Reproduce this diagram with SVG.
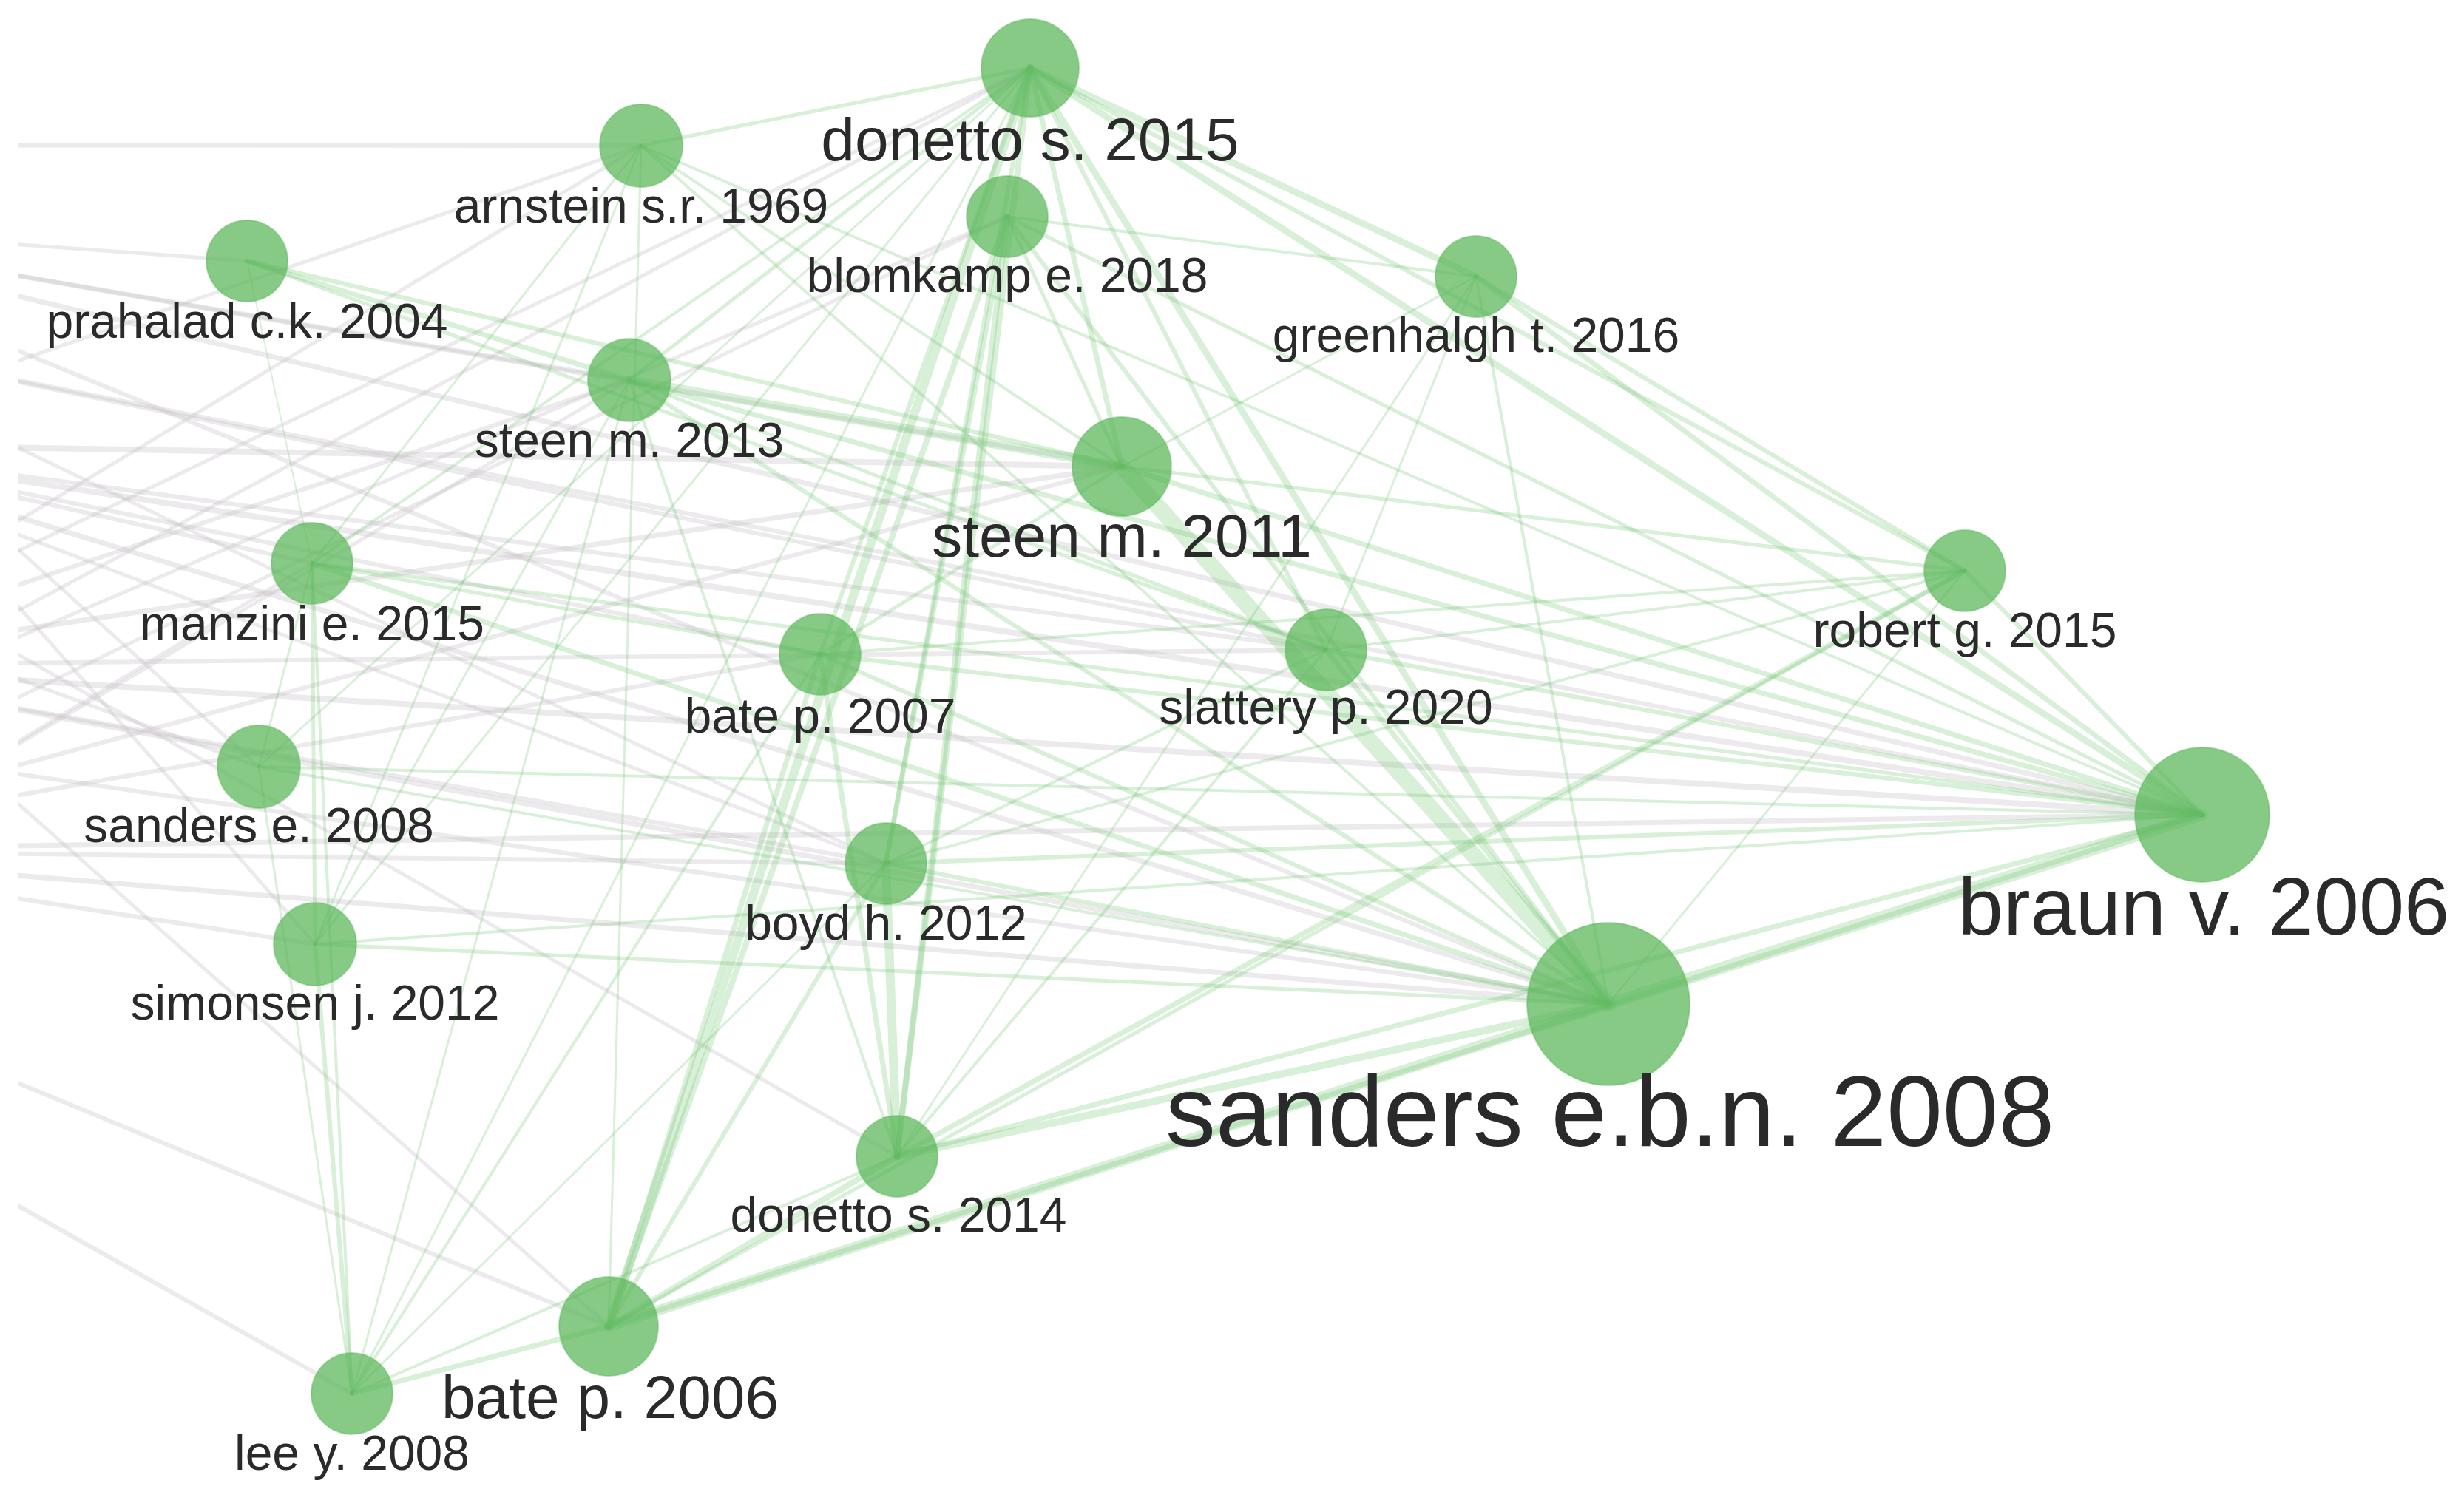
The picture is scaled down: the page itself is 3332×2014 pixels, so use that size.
<svg xmlns="http://www.w3.org/2000/svg" width="3332" height="2014" viewBox="0 0 3332 2014">
<defs>
<style>
.g{stroke:#72c472;stroke-opacity:0.28;fill:none;stroke-linecap:round}
.q{stroke:#c4c0c4;stroke-opacity:0.33;fill:none}
.n{fill:#5cb85c;fill-opacity:0.74;stroke:#5cb85c;stroke-opacity:0.45;stroke-width:2}
.t{font-family:"Liberation Sans",Arial,sans-serif;fill:#2a2a2a;text-anchor:middle}
.s{font-size:66px}
.m{font-size:82px}
</style>
<clipPath id="clip"><rect x="25" y="0" width="3307" height="2014"/></clipPath>
</defs>
<rect width="3332" height="2014" fill="#fff"/>
<g id="connectors" clip-path="url(#clip)">
<g id="background-edges">
<line class="q" x1="-600" y1="196" x2="867" y2="197" stroke-width="6"/>
<line class="q" x1="-400" y1="300" x2="851" y2="514" stroke-width="6"/>
<line class="q" x1="-400" y1="300" x2="1517" y2="631" stroke-width="6"/>
<line class="q" x1="-400" y1="300" x2="2175" y2="1358" stroke-width="6"/>
<line class="q" x1="-400" y1="300" x2="2978" y2="1102" stroke-width="7"/>
<line class="q" x1="-400" y1="300" x2="334" y2="353" stroke-width="5"/>
<line class="q" x1="-300" y1="600" x2="2978" y2="1102" stroke-width="8"/>
<line class="q" x1="-300" y1="600" x2="2175" y2="1358" stroke-width="7"/>
<line class="q" x1="-300" y1="600" x2="1793" y2="879" stroke-width="6"/>
<line class="q" x1="-300" y1="600" x2="1517" y2="631" stroke-width="8"/>
<line class="q" x1="-300" y1="600" x2="1109" y2="885" stroke-width="6"/>
<line class="q" x1="-300" y1="600" x2="1198" y2="1168" stroke-width="5"/>
<line class="q" x1="-300" y1="600" x2="422" y2="762" stroke-width="6"/>
<line class="q" x1="-300" y1="600" x2="867" y2="197" stroke-width="5"/>
<line class="q" x1="-300" y1="900" x2="2978" y2="1102" stroke-width="8"/>
<line class="q" x1="-300" y1="900" x2="2175" y2="1358" stroke-width="7"/>
<line class="q" x1="-300" y1="900" x2="1793" y2="879" stroke-width="6"/>
<line class="q" x1="-300" y1="900" x2="1198" y2="1168" stroke-width="6"/>
<line class="q" x1="-300" y1="900" x2="851" y2="514" stroke-width="6"/>
<line class="q" x1="-300" y1="900" x2="867" y2="197" stroke-width="5"/>
<line class="q" x1="-300" y1="900" x2="1393" y2="92" stroke-width="5"/>
<line class="q" x1="-300" y1="900" x2="1517" y2="631" stroke-width="7"/>
<line class="q" x1="-400" y1="1150" x2="2175" y2="1358" stroke-width="7"/>
<line class="q" x1="-400" y1="1150" x2="2978" y2="1102" stroke-width="7"/>
<line class="q" x1="-400" y1="1150" x2="1198" y2="1168" stroke-width="6"/>
<line class="q" x1="-400" y1="1150" x2="426" y2="1277" stroke-width="6"/>
<line class="q" x1="-400" y1="1150" x2="1517" y2="631" stroke-width="6"/>
<line class="q" x1="-400" y1="1150" x2="1109" y2="885" stroke-width="6"/>
<line class="q" x1="-400" y1="1150" x2="1362" y2="293" stroke-width="5"/>
<line class="q" x1="-300" y1="450" x2="350" y2="1037" stroke-width="5"/>
<line class="q" x1="-300" y1="450" x2="426" y2="1277" stroke-width="5"/>
<line class="q" x1="-300" y1="450" x2="1198" y2="1168" stroke-width="5"/>
<line class="q" x1="-300" y1="450" x2="1793" y2="879" stroke-width="6"/>
<line class="q" x1="-300" y1="450" x2="2978" y2="1102" stroke-width="6"/>
<line class="q" x1="-300" y1="1000" x2="1393" y2="92" stroke-width="5"/>
<line class="q" x1="-300" y1="1000" x2="1362" y2="293" stroke-width="5"/>
<line class="q" x1="-300" y1="1000" x2="2175" y2="1358" stroke-width="6"/>
<line class="q" x1="-500" y1="1249" x2="823" y2="1794" stroke-width="6"/>
<line class="q" x1="-500" y1="1336" x2="476" y2="1885" stroke-width="6"/>
<line class="q" x1="-300" y1="800" x2="350" y2="1037" stroke-width="5"/>
<line class="q" x1="-300" y1="800" x2="823" y2="1794" stroke-width="5"/>
<line class="q" x1="-300" y1="700" x2="1213" y2="1564" stroke-width="5"/>
<line class="q" x1="-300" y1="1200" x2="851" y2="514" stroke-width="5"/>
<line class="q" x1="-300" y1="1200" x2="422" y2="762" stroke-width="5"/>
</g>
<g id="edges">
<line class="g" x1="823" y1="1794" x2="2175" y2="1358" stroke-width="14"/>
<line class="g" x1="2175" y1="1358" x2="2978" y2="1102" stroke-width="16"/>
<line class="g" x1="823" y1="1794" x2="2978" y2="1102" stroke-width="7"/>
<line class="g" x1="1213" y1="1564" x2="2175" y2="1358" stroke-width="10"/>
<line class="g" x1="1213" y1="1564" x2="2978" y2="1102" stroke-width="7"/>
<line class="g" x1="823" y1="1794" x2="1393" y2="92" stroke-width="12"/>
<line class="g" x1="823" y1="1794" x2="1362" y2="293" stroke-width="8"/>
<line class="g" x1="1213" y1="1564" x2="1393" y2="92" stroke-width="8"/>
<line class="g" x1="1213" y1="1564" x2="1362" y2="293" stroke-width="8"/>
<line class="g" x1="1213" y1="1564" x2="1198" y2="1168" stroke-width="12"/>
<line class="g" x1="1213" y1="1564" x2="1109" y2="885" stroke-width="7"/>
<line class="g" x1="1517" y1="631" x2="2175" y2="1358" stroke-width="22"/>
<line class="g" x1="1393" y1="92" x2="2175" y2="1358" stroke-width="9"/>
<line class="g" x1="1393" y1="92" x2="1517" y2="631" stroke-width="7"/>
<line class="g" x1="1393" y1="92" x2="1996" y2="374" stroke-width="9"/>
<line class="g" x1="1393" y1="92" x2="2978" y2="1102" stroke-width="9"/>
<line class="g" x1="1393" y1="92" x2="2657" y2="772" stroke-width="6"/>
<line class="g" x1="1996" y1="374" x2="2978" y2="1102" stroke-width="7"/>
<line class="g" x1="851" y1="514" x2="1517" y2="631" stroke-width="12"/>
<line class="g" x1="851" y1="514" x2="2978" y2="1102" stroke-width="7"/>
<line class="g" x1="334" y1="353" x2="851" y2="514" stroke-width="7"/>
<line class="g" x1="334" y1="353" x2="1517" y2="631" stroke-width="6"/>
<line class="g" x1="334" y1="353" x2="1793" y2="879" stroke-width="5"/>
<line class="g" x1="422" y1="762" x2="2175" y2="1358" stroke-width="7"/>
<line class="g" x1="422" y1="762" x2="1109" y2="885" stroke-width="5"/>
<line class="g" x1="1213" y1="1564" x2="2657" y2="772" stroke-width="7"/>
<line class="g" x1="823" y1="1794" x2="2657" y2="772" stroke-width="5"/>
<line class="g" x1="823" y1="1794" x2="476" y2="1885" stroke-width="7"/>
<line class="g" x1="823" y1="1794" x2="1109" y2="885" stroke-width="7"/>
<line class="g" x1="823" y1="1794" x2="1198" y2="1168" stroke-width="6"/>
<line class="g" x1="823" y1="1794" x2="1213" y2="1564" stroke-width="8"/>
<line class="g" x1="476" y1="1885" x2="426" y2="1277" stroke-width="6"/>
<line class="g" x1="476" y1="1885" x2="350" y2="1037" stroke-width="3"/>
<line class="g" x1="476" y1="1885" x2="422" y2="762" stroke-width="4"/>
<line class="g" x1="476" y1="1885" x2="1213" y2="1564" stroke-width="4"/>
<line class="g" x1="476" y1="1885" x2="1198" y2="1168" stroke-width="3"/>
<line class="g" x1="476" y1="1885" x2="1109" y2="885" stroke-width="4"/>
<line class="g" x1="476" y1="1885" x2="851" y2="514" stroke-width="3"/>
<line class="g" x1="476" y1="1885" x2="1393" y2="92" stroke-width="3"/>
<line class="g" x1="426" y1="1277" x2="2175" y2="1358" stroke-width="5"/>
<line class="g" x1="426" y1="1277" x2="422" y2="762" stroke-width="5"/>
<line class="g" x1="426" y1="1277" x2="2978" y2="1102" stroke-width="4"/>
<line class="g" x1="426" y1="1277" x2="1393" y2="92" stroke-width="3"/>
<line class="g" x1="426" y1="1277" x2="851" y2="514" stroke-width="3"/>
<line class="g" x1="350" y1="1037" x2="422" y2="762" stroke-width="3"/>
<line class="g" x1="350" y1="1037" x2="1393" y2="92" stroke-width="3"/>
<line class="g" x1="334" y1="353" x2="422" y2="762" stroke-width="2"/>
<line class="g" x1="867" y1="197" x2="1393" y2="92" stroke-width="5"/>
<line class="g" x1="867" y1="197" x2="1517" y2="631" stroke-width="4"/>
<line class="g" x1="867" y1="197" x2="2175" y2="1358" stroke-width="4"/>
<line class="g" x1="867" y1="197" x2="2978" y2="1102" stroke-width="4"/>
<line class="g" x1="867" y1="197" x2="823" y2="1794" stroke-width="3"/>
<line class="g" x1="867" y1="197" x2="426" y2="1277" stroke-width="3"/>
<line class="g" x1="867" y1="197" x2="422" y2="762" stroke-width="3"/>
<line class="g" x1="1362" y1="293" x2="2175" y2="1358" stroke-width="6"/>
<line class="g" x1="1362" y1="293" x2="2978" y2="1102" stroke-width="5"/>
<line class="g" x1="1362" y1="293" x2="1996" y2="374" stroke-width="4"/>
<line class="g" x1="1362" y1="293" x2="1517" y2="631" stroke-width="5"/>
<line class="g" x1="1362" y1="293" x2="1198" y2="1168" stroke-width="7"/>
<line class="g" x1="1393" y1="92" x2="851" y2="514" stroke-width="5"/>
<line class="g" x1="1393" y1="92" x2="422" y2="762" stroke-width="4"/>
<line class="g" x1="1393" y1="92" x2="1198" y2="1168" stroke-width="6"/>
<line class="g" x1="1393" y1="92" x2="1793" y2="879" stroke-width="6"/>
<line class="g" x1="1393" y1="92" x2="1109" y2="885" stroke-width="6"/>
<line class="g" x1="1996" y1="374" x2="2175" y2="1358" stroke-width="4"/>
<line class="g" x1="1996" y1="374" x2="1793" y2="879" stroke-width="3"/>
<line class="g" x1="1996" y1="374" x2="2657" y2="772" stroke-width="6"/>
<line class="g" x1="1996" y1="374" x2="1517" y2="631" stroke-width="3"/>
<line class="g" x1="1996" y1="374" x2="1213" y2="1564" stroke-width="3"/>
<line class="g" x1="1517" y1="631" x2="2978" y2="1102" stroke-width="7"/>
<line class="g" x1="1517" y1="631" x2="2657" y2="772" stroke-width="5"/>
<line class="g" x1="1517" y1="631" x2="1109" y2="885" stroke-width="5"/>
<line class="g" x1="1793" y1="879" x2="2175" y2="1358" stroke-width="7"/>
<line class="g" x1="1793" y1="879" x2="2978" y2="1102" stroke-width="6"/>
<line class="g" x1="1793" y1="879" x2="2657" y2="772" stroke-width="4"/>
<line class="g" x1="2657" y1="772" x2="2978" y2="1102" stroke-width="6"/>
<line class="g" x1="2657" y1="772" x2="2175" y2="1358" stroke-width="3"/>
<line class="g" x1="2657" y1="772" x2="1198" y2="1168" stroke-width="4"/>
<line class="g" x1="2657" y1="772" x2="1109" y2="885" stroke-width="4"/>
<line class="g" x1="1109" y1="885" x2="2175" y2="1358" stroke-width="6"/>
<line class="g" x1="1109" y1="885" x2="2978" y2="1102" stroke-width="6"/>
<line class="g" x1="1198" y1="1168" x2="2175" y2="1358" stroke-width="6"/>
<line class="g" x1="1198" y1="1168" x2="2978" y2="1102" stroke-width="6"/>
<line class="g" x1="1198" y1="1168" x2="1793" y2="879" stroke-width="4"/>
<line class="g" x1="851" y1="514" x2="2175" y2="1358" stroke-width="6"/>
<line class="g" x1="851" y1="514" x2="1793" y2="879" stroke-width="5"/>
<line class="g" x1="851" y1="514" x2="1213" y2="1564" stroke-width="4"/>
<line class="g" x1="350" y1="1037" x2="2175" y2="1358" stroke-width="4"/>
<line class="g" x1="350" y1="1037" x2="2978" y2="1102" stroke-width="4"/>
<line class="g" x1="422" y1="762" x2="2978" y2="1102" stroke-width="5"/>
<line class="g" x1="1213" y1="1564" x2="1793" y2="879" stroke-width="4"/>
</g>
</g>
<g id="node-donetto-s-2015"><circle class="n" cx="1393" cy="92" r="66"/><text class="t m" x="1393" y="217">donetto s. 2015</text></g>
<g id="node-arnstein-s-r-1969"><circle class="n" cx="867" cy="197" r="56"/><text class="t s" x="867" y="301">arnstein s.r. 1969</text></g>
<g id="node-blomkamp-e-2018"><circle class="n" cx="1362" cy="293" r="55"/><text class="t s" x="1362" y="395">blomkamp e. 2018</text></g>
<g id="node-prahalad-c-k-2004"><circle class="n" cx="334" cy="353" r="55"/><text class="t s" x="334" y="457">prahalad c.k. 2004</text></g>
<g id="node-greenhalgh-t-2016"><circle class="n" cx="1996" cy="374" r="55"/><text class="t s" x="1996" y="476">greenhalgh t. 2016</text></g>
<g id="node-steen-m-2013"><circle class="n" cx="851" cy="514" r="56"/><text class="t s" x="851" y="618">steen m. 2013</text></g>
<g id="node-steen-m-2011"><circle class="n" cx="1517" cy="631" r="67"/><text class="t m" x="1517" y="753">steen m. 2011</text></g>
<g id="node-manzini-e-2015"><circle class="n" cx="422" cy="762" r="55"/><text class="t s" x="422" y="866">manzini e. 2015</text></g>
<g id="node-robert-g-2015"><circle class="n" cx="2657" cy="772" r="55"/><text class="t s" x="2657" y="875">robert g. 2015</text></g>
<g id="node-bate-p-2007"><circle class="n" cx="1109" cy="885" r="55"/><text class="t s" x="1109" y="991">bate p. 2007</text></g>
<g id="node-slattery-p-2020"><circle class="n" cx="1793" cy="879" r="55"/><text class="t s" x="1793" y="979">slattery p. 2020</text></g>
<g id="node-sanders-e-2008"><circle class="n" cx="350" cy="1037" r="56"/><text class="t s" x="350" y="1139">sanders e. 2008</text></g>
<g id="node-braun-v-2006"><circle class="n" cx="2978" cy="1102" r="91"/><text class="t" style="font-size:110px" x="2980" y="1264">braun v. 2006</text></g>
<g id="node-boyd-h-2012"><circle class="n" cx="1198" cy="1168" r="55"/><text class="t s" x="1198" y="1271">boyd h. 2012</text></g>
<g id="node-simonsen-j-2012"><circle class="n" cx="426" cy="1277" r="56"/><text class="t s" x="426" y="1379">simonsen j. 2012</text></g>
<g id="node-sanders-e-b-n-2008"><circle class="n" cx="2175" cy="1358" r="110"/><text class="t" style="font-size:136px" x="2177" y="1550">sanders e.b.n. 2008</text></g>
<g id="node-donetto-s-2014"><circle class="n" cx="1213" cy="1564" r="55"/><text class="t s" x="1215" y="1666">donetto s. 2014</text></g>
<g id="node-bate-p-2006"><circle class="n" cx="823" cy="1794" r="67"/><text class="t m" x="825" y="1918">bate p. 2006</text></g>
<g id="node-lee-y-2008"><circle class="n" cx="476" cy="1885" r="55"/><text class="t s" x="476" y="1988">lee y. 2008</text></g>
</svg>
